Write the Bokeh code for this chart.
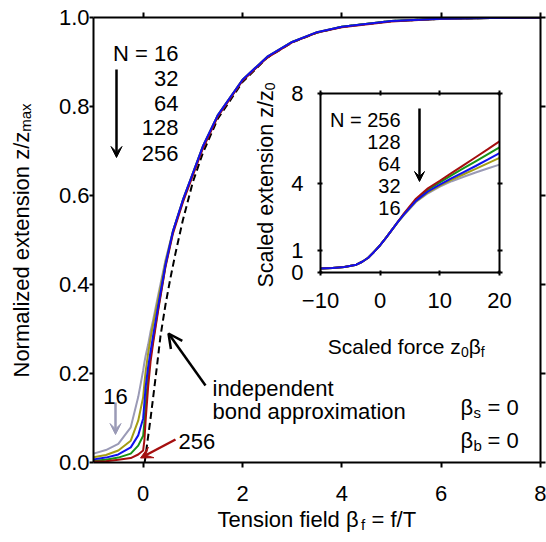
from bokeh.plotting import figure
from bokeh.models import (Range1d, LinearAxis, FixedTicker, PrintfTickFormatter,
                          CustomJSTickFormatter, Label, Arrow, VeeHead, OpenHead)
from bokeh.layouts import column
from bokeh.embed import file_html
from bokeh.resources import INLINE

FONT = "Liberation Sans"

# ---------------- data: main panel (normalized extension vs tension field) ----------------
beta_f = [-1.0, -0.75, -0.5, -0.25, -0.1, 0.0, 0.025, 0.05, 0.1, 0.15, 0.2, 0.3, 0.45,
          0.6, 0.8, 1.0, 1.2, 1.5, 2.0, 2.5, 3.0, 3.5, 4.0, 5.0, 6.0, 7.0, 8.0]
ext_N16 = [0.020, 0.028, 0.042, 0.079, 0.147, 0.207, 0.225, 0.240, 0.265, 0.295, 0.320, 0.375, 0.455,
           0.520, 0.590, 0.650, 0.710, 0.780, 0.860, 0.912, 0.945, 0.967, 0.979, 0.992, 0.997, 0.999, 1.0]
ext_N32 = [0.012, 0.017, 0.027, 0.049, 0.094, 0.147, 0.178, 0.205, 0.245, 0.280, 0.310, 0.365, 0.450,
           0.520, 0.590, 0.650, 0.710, 0.780, 0.860, 0.912, 0.945, 0.967, 0.979, 0.992, 0.997, 0.999, 1.0]
ext_N64 = [0.007, 0.011, 0.018, 0.034, 0.061, 0.099, 0.135, 0.170, 0.215, 0.250, 0.285, 0.350, 0.445,
           0.520, 0.590, 0.650, 0.710, 0.780, 0.860, 0.912, 0.945, 0.967, 0.979, 0.992, 0.997, 0.999, 1.0]
ext_N128 = [0.004, 0.006, 0.011, 0.020, 0.038, 0.060, 0.090, 0.130, 0.190, 0.240, 0.275, 0.345, 0.443,
            0.518, 0.588, 0.648, 0.708, 0.779, 0.859, 0.911, 0.945, 0.966, 0.979, 0.992, 0.997, 0.999, 1.0]
ext_N256 = [0.002, 0.003, 0.006, 0.010, 0.018, 0.027, 0.050, 0.095, 0.170, 0.228, 0.268, 0.340, 0.440,
            0.515, 0.585, 0.645, 0.705, 0.777, 0.858, 0.910, 0.944, 0.966, 0.978, 0.991, 0.997, 0.999, 1.0]

# independent bond approximation (dashed)
ib_beta_f = [0.03, 0.15, 0.26, 0.35, 0.45, 0.55, 0.65, 0.8, 1.0, 1.2, 1.5, 2.0, 2.5, 3.0, 3.5,
             4.0, 5.0, 6.0, 7.0, 8.0]
ib_ext = [0.0, 0.10, 0.20, 0.285, 0.355, 0.415, 0.47, 0.545, 0.63, 0.695, 0.772, 0.855, 0.91,
          0.944, 0.966, 0.979, 0.992, 0.997, 0.999, 1.0]

# ---------------- data: inset (scaled extension vs scaled force) ----------------
scaled_force = [-10, -8, -6, -4, -3, -2, -1, 0, 1, 2, 3, 4, 6, 8, 10, 12, 14, 16, 18, 20]
scaled_N256 = [0.18, 0.20, 0.25, 0.35, 0.48, 0.66, 0.93, 1.22, 1.56, 1.92, 2.28,
               2.64, 3.30, 3.76, 4.10, 4.45, 4.80, 5.15, 5.50, 5.86]
scaled_N128 = [0.18, 0.20, 0.25, 0.35, 0.48, 0.66, 0.93, 1.22, 1.56, 1.92, 2.27,
               2.62, 3.25, 3.69, 4.03, 4.35, 4.66, 4.97, 5.28, 5.59]
scaled_N64 = [0.18, 0.20, 0.25, 0.35, 0.48, 0.66, 0.93, 1.22, 1.56, 1.92, 2.27,
              2.60, 3.20, 3.62, 3.93, 4.22, 4.49, 4.76, 5.04, 5.33]
scaled_N32 = [0.18, 0.20, 0.25, 0.35, 0.48, 0.66, 0.93, 1.22, 1.56, 1.92, 2.26,
              2.59, 3.18, 3.58, 3.88, 4.15, 4.39, 4.63, 4.88, 5.12]
scaled_N16 = [0.18, 0.20, 0.25, 0.35, 0.48, 0.66, 0.93, 1.22, 1.56, 1.92, 2.26,
              2.57, 3.15, 3.54, 3.84, 4.08, 4.28, 4.47, 4.65, 4.82]

N_labels_main = ["N = 16", "32", "64", "128", "256"]
N_labels_inset = ["N = 256", "128", "64", "32", "16"]

x_ticks_main = [0, 2, 4, 6, 8]
y_ticks_main = [0.0, 0.2, 0.4, 0.6, 0.8, 1.0]
x_ticks_inset = [-10, 0, 10, 20]
y_ticks_inset = [0, 1, 4, 8]

# ---------------- styles ----------------
C16, C32, C64, C128, C256 = "#9a9ab6", "#a59d14", "#1010ee", "#179317", "#a50f0f"

# ---------------- layout (page pixels; page origin at top-left) ----------------
PAGE_W, PAGE_H = 546, 542
ML, MR, MT, MB = 93, 6, 17, 80
FX0, FX1 = ML, PAGE_W - MR          # 93 .. 540
FY0, FY1 = MT, PAGE_H - MB          # 17 .. 462


def mx(px):
    return -1 + (px - FX0) * 9.0 / (FX1 - FX0)


def my(py):
    return (FY1 - py) / float(FY1 - FY0)


IX0, IX1, IY0, IY1 = 320, 499, 93, 272
IL, IR, IT, IB = 70, 16, 14, 82
INSET_W = IL + (IX1 - IX0) + IR
INSET_H = IT + (IY1 - IY0) + IB
INSET_TOP = IY0 - IT
INSET_LEFT = IX0 - IL


def ix(px):
    return -10 + (px - IX0) * 30.0 / (IX1 - IX0)


def iy(py):
    return (IY1 - py) * 8.0 / (IY1 - IY0)


def style_axis(ax, tick_in, tick_out, standoff, size="22px"):
    ax.axis_line_width = 2
    ax.axis_line_color = "black"
    ax.major_tick_line_width = 2
    ax.major_tick_line_color = "black"
    ax.major_tick_in = tick_in
    ax.major_tick_out = tick_out
    ax.minor_tick_line_color = None
    ax.major_label_text_font = FONT
    ax.major_label_text_font_size = size
    ax.major_label_text_color = "black"
    ax.major_label_standoff = standoff


def blank_axis(ticks, tick_in, tick_out):
    ax = LinearAxis(ticker=FixedTicker(ticks=ticks),
                    formatter=CustomJSTickFormatter(code="return ''"))
    style_axis(ax, tick_in, tick_out, 0, size="1px")
    return ax


# ================= main figure =================
p = figure(width=PAGE_W, height=PAGE_H, x_range=Range1d(-1, 8), y_range=Range1d(0, 1),
           output_backend="svg", toolbar_location=None, frame_align=False,
           min_border_left=ML, min_border_right=MR, min_border_top=MT, min_border_bottom=MB)
p.grid.visible = False
p.outline_line_color = None
p.background_fill_color = "white"
p.border_fill_color = "white"

p.xaxis.ticker = FixedTicker(ticks=x_ticks_main)
p.yaxis.ticker = FixedTicker(ticks=y_ticks_main)
p.yaxis.formatter = PrintfTickFormatter(format="%.1f")
style_axis(p.xaxis[0], 0, 5, 18)
style_axis(p.yaxis[0], 0, 4, 0)
p.add_layout(blank_axis(x_ticks_main, 0, 5), "above")
p.add_layout(blank_axis(y_ticks_main, 0, 5), "right")

p.line(ib_beta_f, ib_ext, line_color="black", line_width=2, line_dash="7 4")
p.line(beta_f, ext_N16, line_color=C16, line_width=2)
p.line(beta_f, ext_N32, line_color=C32, line_width=2)
p.line(beta_f, ext_N128, line_color=C128, line_width=2)
p.line(beta_f, ext_N256, line_color=C256, line_width=2)
p.line(beta_f, ext_N64, line_color=C64, line_width=2)

p.add_layout(Arrow(end=VeeHead(size=11, fill_color="black", line_color="black"),
                   x_start=mx(116), y_start=my(69), x_end=mx(116), y_end=my(157),
                   line_width=2.5, line_color="black"))
p.add_layout(Arrow(end=VeeHead(size=11, fill_color=C16, line_color=C16),
                   x_start=mx(115), y_start=my(402), x_end=mx(115), y_end=my(434),
                   line_width=2.5, line_color=C16))
p.add_layout(Arrow(end=VeeHead(size=12, fill_color=C256, line_color=C256),
                   x_start=mx(175), y_start=my(439), x_end=mx(140), y_end=my(457.5),
                   line_width=2.5, line_color=C256))
p.add_layout(Arrow(end=OpenHead(size=14, line_width=2.5, line_color="black"),
                   x_start=mx(205), y_start=my(385), x_end=mx(168), y_end=my(333),
                   line_width=2.5, line_color="black"))

# ================= inset figure =================
q = figure(width=INSET_W, height=INSET_H, x_range=Range1d(-10, 20), y_range=Range1d(0, 8),
           output_backend="svg", toolbar_location=None, frame_align=False,
           min_border_left=IL, min_border_right=IR, min_border_top=IT, min_border_bottom=IB,
           margin=(INSET_TOP - PAGE_H, 0, 0, INSET_LEFT))
q.grid.visible = False
q.outline_line_color = None
q.border_fill_color = None
q.background_fill_color = "white"

q.xaxis.ticker = FixedTicker(ticks=x_ticks_inset)
q.yaxis.ticker = FixedTicker(ticks=y_ticks_inset)
style_axis(q.xaxis[0], 2, 3, 17)
style_axis(q.yaxis[0], 2, 3, 14)
q.add_layout(blank_axis(x_ticks_inset, 2, 3), "above")
q.add_layout(blank_axis(y_ticks_inset, 2, 3), "right")

q.line(scaled_force, scaled_N16, line_color=C16, line_width=2)
q.line(scaled_force, scaled_N32, line_color=C32, line_width=2)
q.line(scaled_force, scaled_N128, line_color=C128, line_width=2)
q.line(scaled_force, scaled_N256, line_color=C256, line_width=2)
q.line(scaled_force, scaled_N64, line_color=C64, line_width=2)

q.add_layout(Arrow(end=VeeHead(size=10, fill_color="black", line_color="black"),
                   x_start=ix(419), y_start=iy(108), x_end=ix(419), y_end=iy(181),
                   line_width=2.5, line_color="black"))

# ================= text layer (page-pixel coordinates) =================
t = figure(width=PAGE_W, height=PAGE_H, x_range=Range1d(0, PAGE_W), y_range=Range1d(0, PAGE_H),
           x_axis_type=None, y_axis_type=None, output_backend="svg", toolbar_location=None,
           frame_align=False, min_border=0, min_border_left=0, min_border_right=0,
           min_border_top=0, min_border_bottom=0,
           margin=(-(INSET_TOP + INSET_H), 0, 0, 0))
t.grid.visible = False
t.outline_line_color = None
t.border_fill_color = None
t.background_fill_color = None


def lab(x, y, text, size="22px", align="left", angle=0):
    t.add_layout(Label(x=x, y=PAGE_H - y, text=text, text_font=FONT, text_font_size=size,
                       text_align=align, text_baseline="alphabetic", text_color="black",
                       angle=angle, angle_units="deg"))


# main panel texts
for s, b in zip(N_labels_main, [53, 78, 103, 127, 153]):
    lab(178, b, s, align="right")
lab(115, 396, "16", align="center")
lab(178, 441, "256")
lab(212, 388, "independent")
lab(212, 411, "bond approximation")
lab(460, 407, "β")
lab(473, 412, "s", size="15px")
lab(487, 407, "= 0")
lab(460, 440, "β")
lab(473, 445, "b", size="15px")
lab(487, 440, "= 0")

# main axis titles
lab(217, 519, "Tension field β")
lab(360.5, 524, "f", size="15px")
lab(371, 519, "= f/T")
lab(21, 377, "Normalized extension z/z", angle=90)
lab(25, 131.3, "max", size="15px", angle=90)

# inset texts
for s, b in zip(N_labels_inset, [119, 141, 163.5, 185.5, 207.5]):
    lab(400, b, s, size="20px", align="right")
lab(265, 287, "Scaled extension z/z", size="21.5px", angle=90)
lab(269, 89.8, "0", size="14px", angle=90)
lab(327.3, 346, "Scaled force z", size="21px")
lab(460.4, 351, "0", size="14px")
lab(468.2, 346, "β", size="21px")
lab(480.3, 351, "f", size="14px")

layout = column(p, q, t)
open("out.html", "w").write(file_html(layout, INLINE))
